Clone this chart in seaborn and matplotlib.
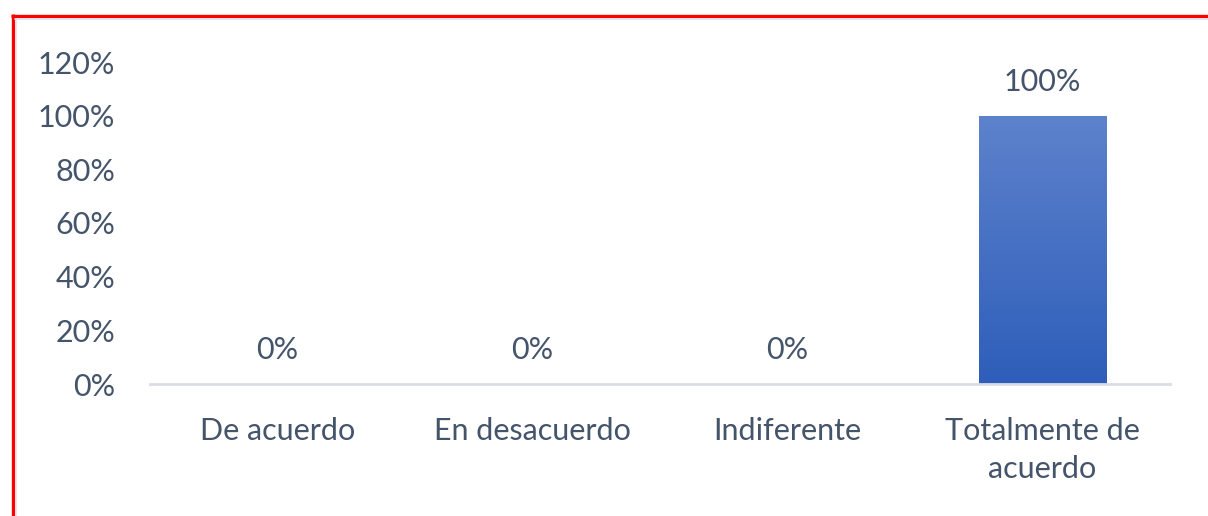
import matplotlib
matplotlib.use("Agg")
import matplotlib.pyplot as plt
import seaborn as sns
import numpy as np
import pandas as pd
from matplotlib.colors import LinearSegmentedColormap
from matplotlib.lines import Line2D

categories = ["De acuerdo", "En desacuerdo", "Indiferente", "Totalmente de\nacuerdo"]
values = [0, 0, 0, 100]
value_labels = ["0%", "0%", "0%", "100%"]
yticks = [0, 20, 40, 60, 80, 100, 120]
ytick_labels = ["0%", "20%", "40%", "60%", "80%", "100%", "120%"]

text_color = "#44546A"
sns.set_theme(style="white")
plt.rcParams["font.family"] = ["Lato", "DejaVu Sans"]

df = pd.DataFrame({"cat": categories, "val": values})

fig = plt.figure(figsize=(12.08, 5.16), dpi=100)
ax = fig.add_axes([150 / 1208, 1 - 384 / 516, 1020 / 1208, (384 - 62) / 516])

sns.barplot(data=df, x="cat", y="val", color="#4472C4", width=0.5, ax=ax, saturation=1)
ax.set_ylim(0, 120)
ax.set_yticks(yticks)
ax.set_yticklabels(ytick_labels)
ax.set_xlabel("")
ax.set_ylabel("")
ax.tick_params(axis="y", length=0, pad=25, labelsize=22, labelcolor=text_color)
ax.tick_params(axis="x", length=0, pad=24, labelsize=22, labelcolor=text_color)
for lbl in ax.get_xticklabels():
    lbl.set_linespacing(1.4)
for s in ["top", "right", "left"]:
    ax.spines[s].set_visible(False)
ax.spines["bottom"].set_color("#D9DEE5")
ax.spines["bottom"].set_linewidth(2)

# vertical gradient fill on each bar
cmap = LinearSegmentedColormap.from_list("bar_grad", ["#2E5EBA", "#5E82CC"])
grad = np.linspace(0, 1, 256).reshape(-1, 1)
for patch in ax.patches:
    x0, y0 = patch.get_x(), patch.get_y()
    w, h = patch.get_width(), patch.get_height()
    if h <= 0:
        continue
    im = ax.imshow(grad, extent=[x0, x0 + w, y0, y0 + h], origin="lower",
                   cmap=cmap, aspect="auto", zorder=patch.get_zorder() + 0.1)
    im.set_clip_path(patch)

# value labels above bars
for i, (v, t) in enumerate(zip(values, value_labels)):
    ax.annotate(t, xy=(i, v), xytext=(0, 34), textcoords="offset pixels",
                ha="center", va="center", fontsize=22, color=text_color)

ax.set_xlim(-0.5, 3.5)

# frame lines along the top and left edges
W, H = 1208, 516
fig.add_artist(Line2D([11 / W, 1], [1 - 15.5 / H, 1 - 15.5 / H], color="#FF0000", lw=2.4,
                      transform=fig.transFigure, solid_capstyle="butt"))
fig.add_artist(Line2D([12.5 / W, 12.5 / W], [0, 1 - 14 / H], color="#FF0000", lw=2.4,
                      transform=fig.transFigure, solid_capstyle="butt"))
fig.add_artist(Line2D([15 / W, 1], [1 - 19 / H, 1 - 19 / H], color="#DDE1E7", lw=1.2,
                      transform=fig.transFigure))
fig.add_artist(Line2D([16 / W, 16 / W], [0, 1 - 19 / H], color="#DDE1E7", lw=1.2,
                      transform=fig.transFigure))

fig.savefig("out.png", dpi=100)
